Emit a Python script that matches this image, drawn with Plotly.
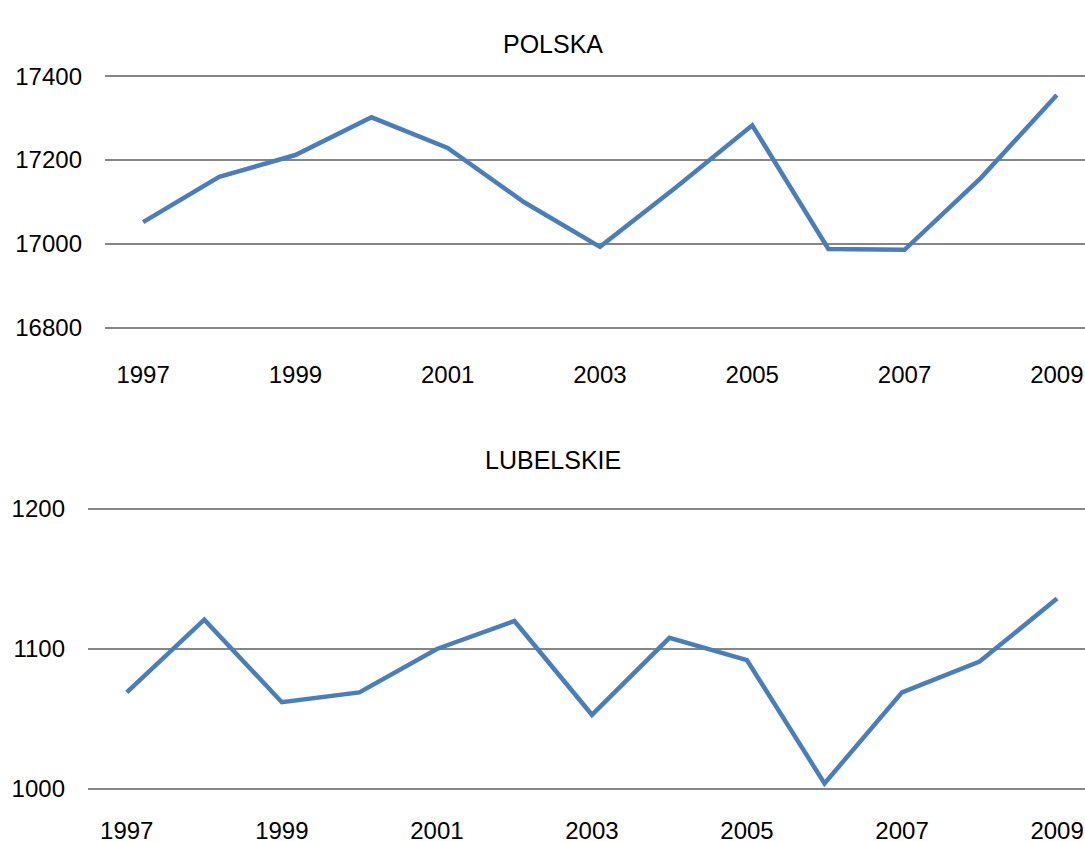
import plotly.graph_objects as go

years = list(range(1997, 2010))
polska = [17052, 17160, 17212, 17302, 17229, 17100, 16993, 17135, 17283, 16988, 16986, 17157, 17355]
lubelskie = [1069, 1121, 1062, 1069, 1100, 1120, 1053, 1108, 1092, 1004, 1069, 1091, 1136]
label_years = list(range(1997, 2010, 2))

W, H = 1085, 841
FONT = "Liberation Sans"
LINE = "#4a7ebb"
GRID = "#868686"


def px_x(p):
    return p / W


def px_y(p):
    return 1 - p / H


fig = go.Figure()
fig.add_trace(go.Scatter(x=years, y=polska, mode="lines",
                         line=dict(color=LINE, width=4.5), xaxis="x", yaxis="y"))
fig.add_trace(go.Scatter(x=years, y=lubelskie, mode="lines",
                         line=dict(color=LINE, width=4.5), xaxis="x2", yaxis="y2"))

xcommon = dict(showgrid=False, zeroline=False, showline=False, automargin=False,
               tickmode="array", tickvals=label_years,
               tickfont=dict(family=FONT, size=24, color="black"))
ycommon = dict(showgrid=True, gridcolor=GRID, gridwidth=2, zeroline=False, showline=False,
               automargin=False, tickformat="d",
               tickfont=dict(family=FONT, size=24, color="black"), ticklabelstandoff=22)

fig.update_layout(
    width=W, height=H,
    margin=dict(l=0, r=0, t=0, b=0),
    paper_bgcolor="white", plot_bgcolor="white",
    showlegend=False,
    xaxis=dict(domain=[px_x(105), 1], range=[1996.5, 2009.37], anchor="y",
               ticklabelstandoff=26, **xcommon),
    yaxis=dict(domain=[px_y(332), px_y(72)], range=[16790, 17410], anchor="x",
               tickvals=[16800, 17000, 17200, 17400], **ycommon),
    xaxis2=dict(domain=[px_x(88), 1], range=[1996.5, 2009.36], anchor="y2",
                ticklabelstandoff=18, **xcommon),
    yaxis2=dict(domain=[px_y(796), px_y(502)], range=[995, 1205], anchor="x2",
                tickvals=[1000, 1100, 1200], **ycommon),
    annotations=[
        dict(text="POLSKA", x=px_x(553), y=px_y(28), xref="paper", yref="paper",
             showarrow=False, font=dict(family=FONT, size=25, color="black")),
        dict(text="LUBELSKIE", x=px_x(553), y=px_y(460), xref="paper", yref="paper",
             showarrow=False, font=dict(family=FONT, size=25, color="black")),
    ],
)

# drop the default page margin so the figure sits at the window's corner
fig.write_html("out.html", config={"displayModeBar": False},
               post_script="document.body.style.margin='0';")
